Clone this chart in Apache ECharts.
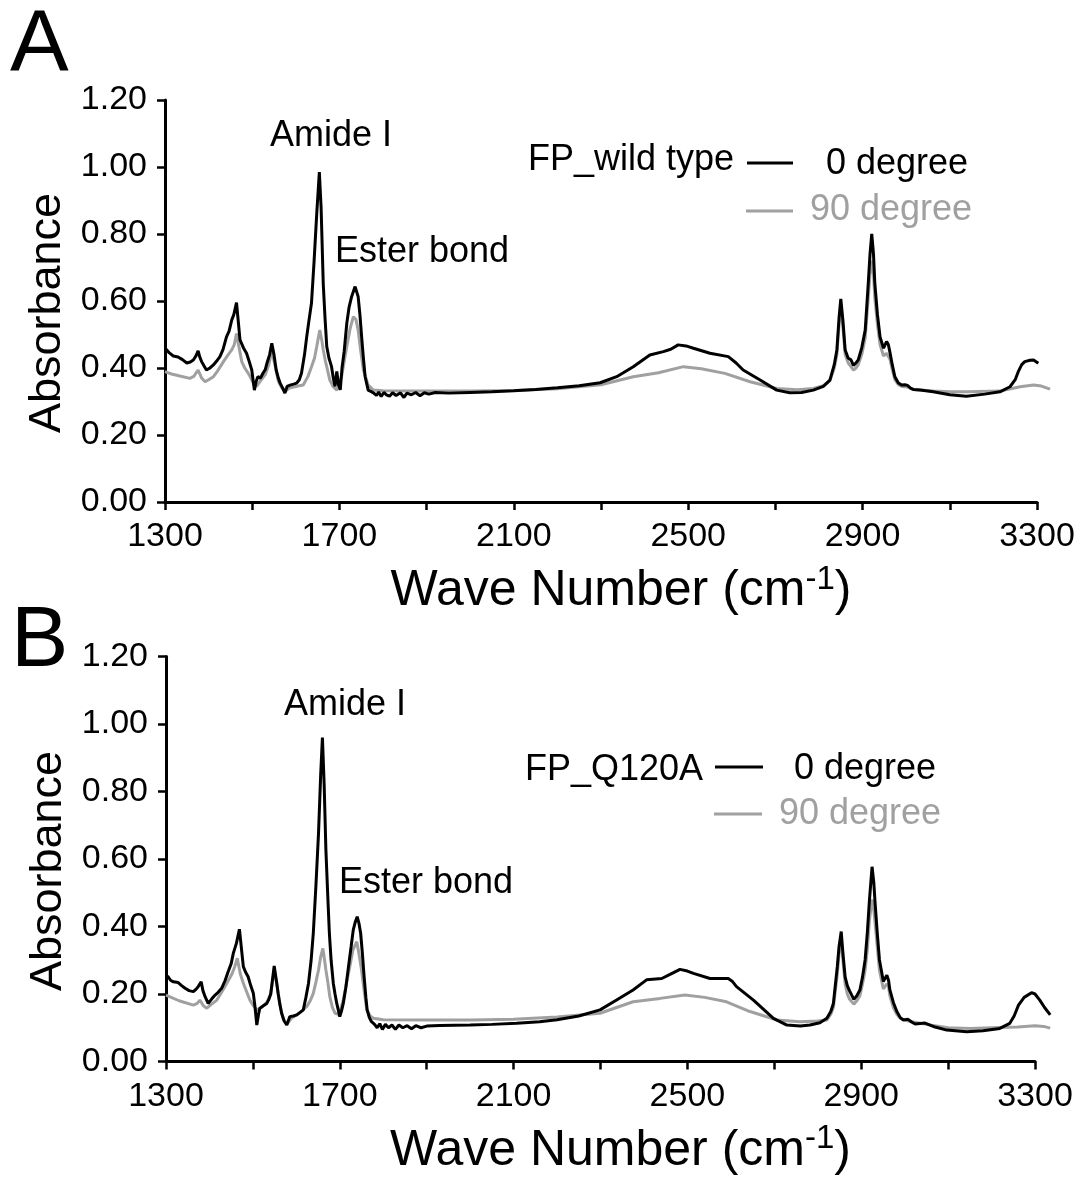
<!DOCTYPE html>
<html>
<head>
<meta charset="utf-8">
<script src="https://cdn.jsdelivr.net/npm/echarts@6.0.0/dist/echarts.min.js"></script>
<style>html,body{margin:0;padding:0;background:#fff;}#c{width:1083px;height:1177px;}</style>
</head>
<body>
<div id="c"></div>
<script>
// ---- Panel A: FP_wild type ----
const wnA0 = [1300,1310,1319,1330,1340,1350,1358,1365,1371,1376,1380,1384,1390,1395,1403,1411,1418,1426,1433,1441,1447,1453,1458,1464,1468,1472,1480,1487,1493,1499,1505,1509,1513,1519,1525,1530,1534,1540,1545,1550,1555,1560,1564,1570,1575,1580,1587,1595,1602,1608,1613,1620,1625,1630,1636,1642,1648,1654,1658,1663,1667,1671,1676,1682,1686,1690,1694,1698,1702,1706,1711,1717,1722,1728,1736,1743,1747,1751,1755,1759,1766,1772,1778,1785,1790,1796,1802,1808,1815,1822,1830,1840,1848,1855,1865,1875,1885,1895,1905,1920,1950,2000,2050,2100,2150,2200,2250,2298,2336,2374,2412,2443,2460,2477,2495,2512,2550,2592,2610,2626,2665,2703,2733,2760,2787,2810,2825,2835,2841,2846,2850,2855,2860,2867,2873,2879,2885,2890,2898,2906,2913,2917,2921,2925,2928,2934,2940,2948,2955,2959,2963,2968,2974,2982,2990,2997,3003,3010,3016,3032,3062,3100,3138,3180,3215,3238,3250,3257,3265,3272,3284,3292,3303];
const absA0 = [0.46,0.445,0.436,0.433,0.425,0.415,0.418,0.424,0.436,0.451,0.432,0.419,0.405,0.394,0.40,0.409,0.42,0.434,0.455,0.493,0.51,0.543,0.56,0.595,0.54,0.484,0.46,0.444,0.42,0.394,0.334,0.36,0.374,0.37,0.385,0.395,0.415,0.44,0.474,0.44,0.394,0.37,0.355,0.34,0.325,0.345,0.349,0.352,0.355,0.365,0.384,0.44,0.493,0.54,0.594,0.72,0.86,0.985,0.88,0.65,0.55,0.464,0.43,0.404,0.37,0.345,0.39,0.35,0.335,0.40,0.45,0.534,0.58,0.613,0.643,0.613,0.56,0.493,0.43,0.374,0.334,0.33,0.326,0.318,0.328,0.315,0.327,0.32,0.316,0.326,0.318,0.326,0.312,0.325,0.32,0.327,0.317,0.326,0.322,0.327,0.325,0.327,0.329,0.332,0.336,0.341,0.347,0.356,0.374,0.404,0.439,0.449,0.456,0.469,0.466,0.459,0.444,0.434,0.415,0.394,0.364,0.334,0.326,0.327,0.334,0.345,0.364,0.41,0.454,0.55,0.606,0.54,0.454,0.429,0.425,0.408,0.415,0.424,0.46,0.513,0.653,0.74,0.80,0.74,0.653,0.56,0.493,0.459,0.479,0.47,0.445,0.41,0.374,0.355,0.349,0.35,0.348,0.34,0.336,0.334,0.329,0.32,0.316,0.322,0.329,0.344,0.365,0.389,0.41,0.419,0.423,0.424,0.414];
const wnA90 = [1300,1315,1334,1357,1366,1376,1384,1392,1400,1411,1420,1434,1445,1453,1459,1464,1470,1476,1483,1491,1497,1503,1510,1518,1530,1538,1545,1552,1560,1568,1575,1585,1600,1617,1628,1636,1643,1648,1655,1660,1663,1668,1671,1678,1686,1694,1699,1705,1711,1717,1725,1732,1738,1743,1749,1755,1766,1778,1800,1900,2000,2100,2200,2300,2374,2432,2489,2530,2584,2642,2703,2750,2787,2810,2825,2835,2841,2846,2850,2855,2860,2867,2873,2879,2885,2890,2898,2906,2913,2917,2921,2925,2928,2934,2940,2948,2955,2959,2963,2968,2974,2982,2990,3003,3016,3062,3100,3138,3215,3261,3292,3310,3330];
const absA90 = [0.389,0.382,0.376,0.369,0.375,0.394,0.37,0.359,0.365,0.374,0.39,0.419,0.44,0.454,0.47,0.503,0.46,0.419,0.40,0.384,0.37,0.354,0.345,0.36,0.38,0.41,0.45,0.41,0.36,0.34,0.33,0.34,0.345,0.349,0.375,0.404,0.43,0.464,0.513,0.48,0.454,0.42,0.404,0.364,0.344,0.334,0.35,0.374,0.42,0.464,0.52,0.553,0.545,0.513,0.45,0.394,0.349,0.334,0.332,0.331,0.331,0.333,0.338,0.35,0.374,0.386,0.404,0.398,0.384,0.359,0.339,0.335,0.339,0.347,0.362,0.40,0.44,0.53,0.585,0.52,0.44,0.415,0.405,0.394,0.40,0.41,0.44,0.49,0.61,0.68,0.72,0.68,0.61,0.53,0.47,0.436,0.444,0.44,0.425,0.395,0.365,0.35,0.345,0.343,0.336,0.331,0.329,0.329,0.331,0.344,0.349,0.346,0.337];

// ---- Panel B: FP_Q120A ----
const wnB0 = [1300,1305,1311,1317,1328,1336,1344,1353,1363,1370,1374,1381,1385,1390,1397,1405,1413,1420,1428,1436,1443,1450,1455,1462,1469,1474,1478,1483,1489,1495,1501,1505,1509,1513,1516,1524,1532,1537,1541,1549,1554,1558,1562,1566,1572,1578,1585,1593,1601,1608,1616,1622,1628,1634,1639,1645,1651,1656,1660,1664,1668,1672,1676,1680,1685,1689,1693,1697,1700,1704,1708,1714,1720,1726,1731,1736,1740,1744,1748,1752,1756,1760,1763,1768,1773,1780,1786,1792,1798,1805,1812,1820,1828,1836,1845,1855,1865,1875,1887,1900,1930,2000,2050,2107,2160,2200,2250,2299,2337,2375,2406,2441,2460,2483,2500,2514,2552,2594,2603,2613,2652,2698,2729,2760,2782,2805,2821,2830,2836,2845,2849,2854,2858,2863,2868,2873,2883,2890,2897,2903,2909,2914,2919,2925,2929,2932,2937,2942,2951,2959,2963,2966,2974,2982,2990,2997,3008,3016,3024,3047,3070,3097,3143,3180,3219,3242,3252,3262,3275,3292,3300,3311,3322,3335];
const absB0 = [0.255,0.251,0.24,0.236,0.234,0.225,0.217,0.21,0.207,0.215,0.222,0.236,0.21,0.192,0.172,0.185,0.197,0.205,0.217,0.24,0.266,0.29,0.321,0.35,0.392,0.33,0.281,0.265,0.251,0.225,0.202,0.16,0.108,0.14,0.158,0.165,0.172,0.185,0.2,0.283,0.24,0.202,0.17,0.143,0.12,0.108,0.133,0.135,0.138,0.145,0.153,0.19,0.232,0.3,0.38,0.52,0.676,0.85,0.96,0.82,0.627,0.5,0.38,0.3,0.232,0.2,0.172,0.15,0.133,0.15,0.172,0.22,0.281,0.34,0.39,0.415,0.429,0.41,0.38,0.32,0.251,0.19,0.153,0.13,0.118,0.11,0.1,0.112,0.095,0.11,0.1,0.108,0.095,0.108,0.1,0.106,0.097,0.106,0.1,0.105,0.107,0.108,0.11,0.113,0.118,0.124,0.135,0.153,0.182,0.212,0.242,0.246,0.258,0.273,0.268,0.261,0.246,0.246,0.238,0.222,0.182,0.128,0.108,0.105,0.108,0.115,0.128,0.148,0.172,0.281,0.34,0.385,0.32,0.251,0.225,0.21,0.184,0.195,0.212,0.25,0.301,0.38,0.479,0.577,0.53,0.469,0.38,0.301,0.237,0.256,0.24,0.212,0.175,0.148,0.13,0.123,0.125,0.117,0.111,0.114,0.102,0.093,0.088,0.091,0.098,0.113,0.135,0.167,0.19,0.204,0.2,0.182,0.16,0.138];
const wnB90 = [1300,1330,1363,1372,1378,1386,1394,1405,1417,1428,1440,1452,1458,1464,1471,1478,1486,1493,1501,1509,1520,1532,1541,1549,1555,1562,1570,1578,1590,1601,1613,1624,1632,1639,1645,1651,1656,1661,1665,1668,1673,1677,1683,1689,1697,1702,1708,1715,1723,1730,1739,1744,1750,1756,1762,1770,1777,1800,1900,2000,2100,2200,2299,2375,2437,2494,2540,2590,2644,2706,2759,2800,2821,2830,2836,2845,2849,2854,2858,2863,2868,2873,2883,2890,2897,2903,2909,2914,2919,2925,2929,2932,2937,2942,2951,2959,2963,2966,2974,2982,2990,3008,3050,3100,3150,3200,3260,3300,3320,3335];
const absB90 = [0.197,0.18,0.167,0.172,0.182,0.165,0.158,0.17,0.182,0.205,0.232,0.26,0.28,0.306,0.26,0.232,0.205,0.182,0.165,0.153,0.16,0.175,0.2,0.27,0.23,0.17,0.125,0.11,0.13,0.138,0.15,0.163,0.18,0.202,0.235,0.271,0.31,0.335,0.3,0.271,0.23,0.192,0.16,0.143,0.14,0.155,0.182,0.23,0.281,0.33,0.355,0.32,0.271,0.21,0.153,0.135,0.128,0.124,0.123,0.123,0.125,0.132,0.143,0.177,0.187,0.197,0.19,0.177,0.148,0.123,0.118,0.12,0.123,0.14,0.16,0.26,0.32,0.36,0.3,0.23,0.2,0.185,0.17,0.18,0.195,0.23,0.27,0.33,0.42,0.48,0.45,0.41,0.34,0.27,0.215,0.23,0.22,0.195,0.16,0.14,0.128,0.12,0.11,0.1,0.098,0.1,0.102,0.106,0.104,0.099];

// ---- axis settings / labels ----
const xMin = 1300, xMax = 3300, xStep = 200, xLabelStep = 400;
const xDataMax = 3340; // spectra run a little past the last tick
const yMin = 0, yMax = 1.2, yStep = 0.2;
const seriesNames = ['90 degree', '0 degree'];
const sampleNames = ['FP_wild type', 'FP_Q120A'];
const peakLabels = ['Amide I', 'Ester bond'];
const xTitle = 'Wave Number (cm{sup|-1})';
const yTitle = 'Absorbance';
const panelLetters = ['A', 'B'];

const FONT = 'Liberation Sans, Arial, sans-serif';
const BLACK = '#000000', GREY = '#a0a0a0';

const pair = (xs, ys) => xs.map((x, i) => [x, ys[i]]);

// visible axes grids (1300..3300) and matching data grids (1300..3340, same scale)
const panels = [
  {left: 165, plotRight: 1037, top: 100, height: 402},
  {left: 166, plotRight: 1035, top: 656.5, height: 405}
];
const grids = [];
panels.forEach(p => grids.push({left: p.left, width: p.plotRight - p.left, top: p.top, height: p.height}));
panels.forEach(p => {
  const w = (p.plotRight - p.left) * (xDataMax - xMin) / (xMax - xMin);
  grids.push({left: p.left, width: w, top: p.top, height: p.height});
});

function xAxis(gi) {
  return {
    type: 'value', gridIndex: gi, min: xMin, max: xMax, interval: xStep,
    name: xTitle, nameLocation: 'middle', nameGap: 61,
    nameTextStyle: {fontFamily: FONT, fontSize: 50, color: BLACK, padding: [0, 0, 0, 40],
      rich: {sup: {fontFamily: FONT, fontSize: 33, color: BLACK, verticalAlign: 'top', padding: [0, 0, 24, 0]}}},
    axisLine: {show: true, lineStyle: {color: BLACK, width: 3}},
    axisTick: {show: true, length: 8, lineStyle: {color: BLACK, width: 2.5}},
    splitLine: {show: false},
    axisLabel: {fontFamily: FONT, fontSize: 34, color: BLACK, margin: 18,
      formatter: v => ((v - xMin) % xLabelStep === 0 ? String(v) : '')}
  };
}
function yAxis(gi) {
  return {
    type: 'value', gridIndex: gi, min: yMin, max: yMax, interval: yStep,
    name: yTitle, nameLocation: 'middle', nameRotate: 90, nameGap: 90,
    nameTextStyle: {fontFamily: FONT, fontSize: 45, color: BLACK, padding: [0, 24, 0, 0]},
    axisLine: {show: true, lineStyle: {color: BLACK, width: 3}},
    axisTick: {show: true, length: 8, lineStyle: {color: BLACK, width: 2.5}},
    splitLine: {show: false},
    axisLabel: {fontFamily: FONT, fontSize: 34, color: BLACK, margin: 18,
      formatter: v => v.toFixed(2)}
  };
}
function hiddenX(gi) {
  return {type: 'value', gridIndex: gi, min: xMin, max: xDataMax, show: false,
    splitLine: {show: false}};
}
function hiddenY(gi) {
  return {type: 'value', gridIndex: gi, min: yMin, max: yMax, show: false,
    splitLine: {show: false}};
}
function line(name, ai, data, color) {
  return {
    type: 'line', name: name, xAxisIndex: ai, yAxisIndex: ai, data: data,
    showSymbol: false, symbol: 'none', clip: false, smooth: false,
    lineStyle: {color: color, width: 3}, itemStyle: {color: color},
    z: color === BLACK ? 3 : 2
  };
}
function txt(x, y, s, opts) {
  return {type: 'text', x: x, y: y,
    style: Object.assign({text: s, fontFamily: FONT, fontSize: 36, fill: BLACK,
      align: 'left', verticalAlign: 'middle'}, opts || {})};
}
function seg(x1, x2, y, color) {
  return {type: 'line', shape: {x1: x1, y1: y, x2: x2, y2: y},
    style: {stroke: color, lineWidth: 3}};
}

const chart = echarts.init(document.getElementById('c'), null, {renderer: 'canvas'});
chart.setOption({
  animation: false,
  backgroundColor: '#ffffff',
  grid: grids,
  xAxis: [xAxis(0), xAxis(1), hiddenX(2), hiddenX(3)],
  yAxis: [yAxis(0), yAxis(1), hiddenY(2), hiddenY(3)],
  series: [
    line(seriesNames[0], 2, pair(wnA90, absA90), GREY),
    line(seriesNames[1], 2, pair(wnA0, absA0), BLACK),
    line(seriesNames[0], 3, pair(wnB90, absB90), GREY),
    line(seriesNames[1], 3, pair(wnB0, absB0), BLACK)
  ],
  graphic: [
    txt(10, 47, panelLetters[0], {fontSize: 88}),
    txt(11, 642, panelLetters[1], {fontSize: 86}),
    // Panel A annotations + legend
    txt(331, 136, peakLabels[0], {align: 'center'}),
    txt(335, 252, peakLabels[1]),
    txt(528, 160, sampleNames[0]),
    seg(747, 793, 163, BLACK),
    txt(826, 164, seriesNames[1]),
    seg(746, 793, 211, GREY),
    txt(810, 210, seriesNames[0], {fill: GREY}),
    // Panel B annotations + legend
    txt(345, 705, peakLabels[0], {align: 'center'}),
    txt(339, 883, peakLabels[1]),
    txt(525, 770, sampleNames[1]),
    seg(715, 763, 767, BLACK),
    txt(794, 769, seriesNames[1]),
    seg(714, 762, 814, GREY),
    txt(779, 814, seriesNames[0], {fill: GREY})
  ]
});
</script>
</body>
</html>
